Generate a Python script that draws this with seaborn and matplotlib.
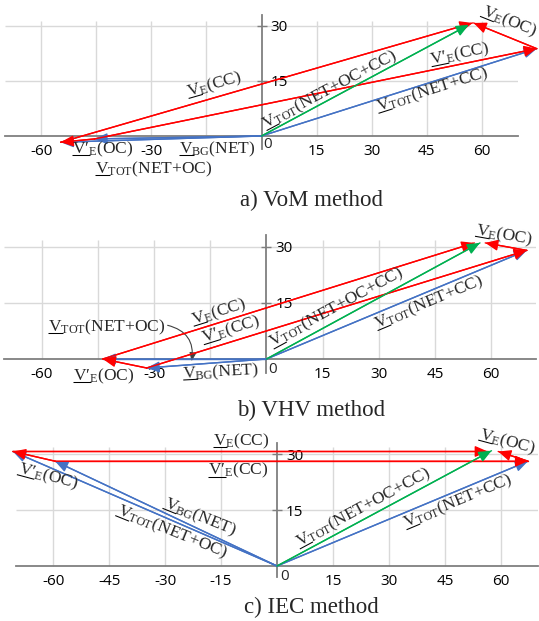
import numpy as np
import pandas as pd
import matplotlib
matplotlib.use('Agg')
import matplotlib.pyplot as plt
import seaborn as sns

# ---------------- data (phasor tips, real / imaginary parts) ----------------
vom_bg_net     = [-45.5, -0.8]
vom_tot_net_oc = [-54.7, -1.7]
vom_e_cc_tip   = [57.5, 30.8]
vom_tot_all    = [56.5, 30.3]
vom_tot_net_cc = [75.0, 23.8]
vom_e_oc_tip   = [57.8, 30.8]

vhv_bg_net     = [-32.0, -2.4]
vhv_tot_net_oc = [-43.7, 0.0]
vhv_e_cc_tip   = [55.5, 31.0]
vhv_tot_all    = [57.0, 31.0]
vhv_tot_net_cc = [69.5, 29.0]
vhv_e_oc_tip   = [58.4, 31.0]

iec_bg_net     = [-59.5, 28.1]
iec_tot_net_oc = [-70.8, 30.7]
iec_e_cc_tip   = [56.5, 30.7]
iec_tot_all    = [57.5, 30.9]
iec_tot_net_cc = [67.3, 28.1]
iec_e_oc_tip   = [59.3, 30.7]

x_ticks = [-60, -45, -30, -15, 0, 15, 30, 45, 60]
y_ticks = [15, 30]
x_labels_ab = ['-60', '', '-30', '', '', '15', '30', '45', '60']
x_labels_c = ['-60', '-45', '-30', '-15', '', '15', '30', '45', '60']
y_labels = ['15', '30']
panel_titles = ['a) VoM method', 'b) VHV method', 'c) IEC method']

# ---------------- styling ----------------
sns.set_theme(style='white')
plt.rcParams['font.family'] = ['Liberation Serif', 'DejaVu Serif']
plt.rcParams['mathtext.fontset'] = 'custom'
plt.rcParams['mathtext.rm'] = 'Liberation Serif'
plt.rcParams['mathtext.it'] = 'Liberation Serif:italic'
plt.rcParams['mathtext.bf'] = 'Liberation Serif:bold'

RED, BLUE, GREEN = '#FF0000', '#4472C4', '#00B050'
PAL = {'red': RED, 'blue': BLUE, 'green': GREEN}
GRID = '#d9d9d9'
AXC = '#7f7f7f'
TICKFONT = 'Open Sans'
LFS = 12.5

W, H = 539, 621
PRIME = '\u2032'


def V(sub, arg, prime=False):
    base = r"\mathrm{V" + (PRIME if prime else "") + "}"
    prefix = "$" + base + "$"
    return (r"$" + base + r"_{\mathrm{" + sub + r"}}$(" + arg + ")", prefix)


def segments(bg, tot_oc, e_cc, tot_all, tot_cc, e_oc):
    o = [0.0, 0.0]
    return [
        ('bg', o, bg, 'blue'),
        ('tot_oc', o, tot_oc, 'blue'),
        ('tot_cc', o, tot_cc, 'blue'),
        ('ep_oc', bg, tot_oc, 'red'),
        ('e_cc', tot_oc, e_cc, 'red'),
        ('ep_cc', bg, tot_cc, 'red'),
        ('e_oc', tot_cc, e_oc, 'red'),
        ('tot_all', o, tot_all, 'green'),
    ]


panels = [
    dict(seg=segments(vom_bg_net, vom_tot_net_oc, vom_e_cc_tip, vom_tot_all, vom_tot_net_cc, vom_e_oc_tip),
         origin=(261.5, 136), s=3.67, xlim=(-70, 70), ylim=(-4.5, 33.5), gtop=31.3, sp=(-3.6, 33.0),
         xl=x_labels_ab, zero=(2, -1),
         labels=[
             (V('E', 'CC'), -12.9, 13.9, 16),
             (V('E', 'OC', True), -43.2, -3.6, 0),
             (V('TOT', 'NET+OC'), -29.3, -9.0, 0),
             (V('BG', 'NET'), -12.1, -3.6, 0),
             (V('TOT', 'NET+OC+CC'), 18.7, 12.5, 28),
             (V('E', 'CC', True), 54.1, 22.1, 11.5),
             (V('TOT', 'NET+CC'), 46.5, 12.5, 17.6),
             (V('E', 'OC'), 67.4, 31.2, -21.8),
         ]),
    dict(seg=segments(vhv_bg_net, vhv_tot_net_oc, vhv_e_cc_tip, vhv_tot_all, vhv_tot_net_cc, vhv_e_oc_tip),
         origin=(266.5, 359), s=3.745, xlim=(-70, 72), ylim=(-4.5, 33.5), gtop=31.8, sp=(-3.7, 33.0),
         xl=x_labels_ab, zero=(2, -3),
         labels=[
             (V('E', 'OC'), 63.5, 33.0, -10),
             (V('E', 'CC'), -12.7, 12.5, 17.4),
             (V('E', 'CC', True), -9.5, 7.7, 17.2),
             (V('E', 'OC', True), -43.4, -4.6, 0),
             (V('BG', 'NET'), -12.1, -3.5, 3),
             (V('TOT', 'NET+OC+CC'), 18.8, 13.6, 28.5),
             (V('TOT', 'NET+CC'), 43.4, 15.0, 22.6),
             (V('TOT', 'NET+OC'), -42.6, 8.5, 0),
         ]),
    dict(seg=segments(iec_bg_net, iec_tot_net_oc, iec_e_cc_tip, iec_tot_all, iec_tot_net_cc, iec_e_oc_tip),
         origin=(277, 566), s=3.73, xlim=(-70, 70), ylim=(-4.5, 33.5), gtop=31.9, sp=(-3.0, 33.0),
         xl=x_labels_c, zero=(3, -3),
         labels=[
             (V('E', 'CC'), -9.7, 33.5, 0),
             (V('E', 'CC', True), -10.5, 25.5, 0),
             (V('E', 'OC', True), -61.4, 23.9, -15),
             (V('BG', 'NET'), -20.6, 13.1, -22),
             (V('TOT', 'NET+OC'), -28.2, 9.1, -22),
             (V('TOT', 'NET+OC+CC'), 23.1, 15.5, 28.3),
             (V('TOT', 'NET+CC'), 48.5, 17.2, 22.7),
             (V('E', 'OC'), 61.8, 33.3, -15),
         ]),
]
title_pos = [(311, 200), (311, 410), (311, 607)]

fig = plt.figure(figsize=(W / 100, H / 100), dpi=100)
pending = []

for i, p in enumerate(panels):
    ox, oy = p['origin']
    s = p['s']
    x0, x1 = p['xlim']
    y0, y1 = p['ylim']
    lp, rp = ox + x0 * s, ox + x1 * s
    tp, bp = oy - y1 * s, oy - y0 * s
    ax = fig.add_axes([lp / W, 1 - bp / H, (rp - lp) / W, (bp - tp) / H])
    ax.set_xlim(x0, x1)
    ax.set_ylim(y0, y1)
    ax.set_autoscale_on(False)

    # grid
    ax.hlines(y_ticks, x0, x1, color=GRID, lw=1, zorder=0)
    ax.vlines([t for t in x_ticks if t != 0], 0, p['gtop'], color=GRID, lw=1, zorder=0)

    # phasor lines
    rows = []
    for name, a, b, kind in p['seg']:
        rows.append(dict(seg=name, x=a[0], y=a[1], kind=kind))
        rows.append(dict(seg=name, x=b[0], y=b[1], kind=kind))
    df = pd.DataFrame(rows)
    sns.lineplot(data=df, x='x', y='y', units='seg', estimator=None, sort=False,
                 hue='kind', palette=PAL, legend=False, lw=1.0, ax=ax, zorder=3)
    for ln in ax.lines:
        ln.set_clip_on(False)
    for name, a, b, kind in p['seg']:
        ax.annotate('', xy=b, xytext=a, annotation_clip=False, zorder=4,
                    arrowprops=dict(arrowstyle='-|>,head_length=0.55,head_width=0.24',
                                    color=PAL[kind], lw=1.0, shrinkA=0, shrinkB=0,
                                    mutation_scale=14))

    # axes
    for sp in ['top', 'left']:
        ax.spines[sp].set_visible(False)
    ax.spines['bottom'].set_position(('data', 0))
    ax.spines['right'].set_position(('data', 0))
    ax.spines['right'].set_bounds(*p['sp'])
    for sp in ['bottom', 'right']:
        ax.spines[sp].set_color(AXC)
        ax.spines[sp].set_linewidth(1.3)
        ax.spines[sp].set_zorder(2)
    ax.yaxis.tick_right()
    ax.set_xticks(x_ticks)
    ax.set_xticklabels(p['xl'], fontfamily=TICKFONT)
    ax.set_yticks(y_ticks)
    ax.set_yticklabels(y_labels, fontfamily=TICKFONT)
    ax.tick_params(axis='x', direction='inout', length=7, width=1, color=AXC,
                   labelsize=11, pad=2, labelcolor='black')
    ax.tick_params(axis='y', direction='inout', length=7, width=1, color=AXC,
                   labelsize=11, pad=3, labelcolor='black')
    ax.set_xlabel('')
    ax.set_ylabel('')
    ax.annotate('0', (0, 0), xytext=p['zero'], textcoords='offset pixels',
                ha='left', va='top', fontsize=11, fontfamily=TICKFONT)

    for (txt, prefix), tx, ty, rot in p['labels']:
        ax.text(tx, ty, txt, rotation=rot, rotation_mode='anchor', ha='center',
                va='center', fontsize=LFS, zorder=5)
        pending.append((ax, txt, prefix, tx, ty, rot))

    if i == 1:
        # curved pointer from the V_TOT(NET+OC) label to its phasor
        ax.annotate('', xy=(-20, -0.6), xytext=(-26.4, 9.0), annotation_clip=False,
                    arrowprops=dict(arrowstyle='-|>,head_length=0.5,head_width=0.2',
                                    color='#404040', lw=0.8, mutation_scale=10,
                                    connectionstyle='arc3,rad=-0.45',
                                    shrinkA=0, shrinkB=0))

    tx, ty = title_pos[i]
    fig.text(tx / W, 1 - ty / H, panel_titles[i], ha='center', va='center', fontsize=16.5)

# ---- underline the "V" of every phasor name ----
renderer = fig.canvas.get_renderer()
for ax, txt, prefix, tx, ty, rot in pending:
    anc = ax.transData.transform((tx, ty))
    t_c = ax.text(tx, ty, txt, ha='center', va='center', fontsize=LFS)
    t_b = ax.text(tx, ty, txt, ha='center', va='baseline', fontsize=LFS)
    t_p = ax.text(tx, ty, prefix, ha='left', va='baseline', fontsize=LFS)
    bc = t_c.get_window_extent(renderer)
    bb = t_b.get_window_extent(renderer)
    bpf = t_p.get_window_extent(renderer)
    for t in (t_c, t_b, t_p):
        t.remove()
    d = anc[1] - (bb.y0 + bb.y1) / 2.0          # baseline relative to centre
    em = LFS * 100 / 72.0
    ly = d - 0.11 * em
    lx0 = -bc.width / 2.0
    lx1 = lx0 + bpf.width + 0.5
    th = np.deg2rad(rot)
    R = np.array([[np.cos(th), -np.sin(th)], [np.sin(th), np.cos(th)]])
    pts = np.array([R @ np.array([lx0, ly]), R @ np.array([lx1, ly])]) + anc
    dpts = ax.transData.inverted().transform(pts)
    ax.plot(dpts[:, 0], dpts[:, 1], color='black', lw=0.75, clip_on=False,
            solid_capstyle='butt', zorder=5)

fig.savefig('out.png', dpi=100)
